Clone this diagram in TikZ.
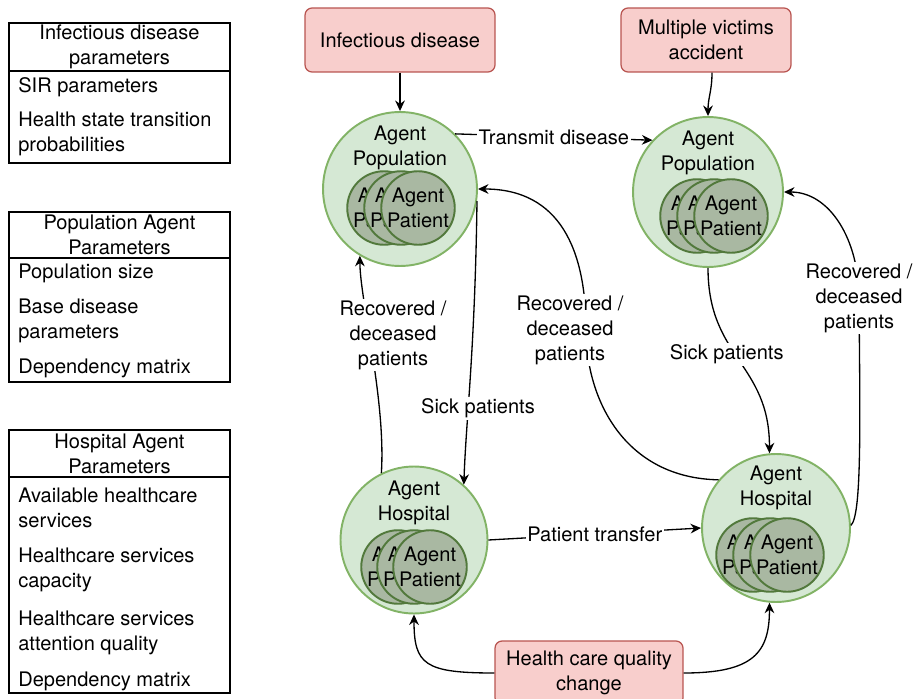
\documentclass[tikz,border=0pt]{standalone}
\usepackage{fontspec}
\setmainfont{TeX Gyre Heros}
\usetikzlibrary{arrows.meta}
\definecolor{popfill}{HTML}{D5E8D4}
\definecolor{popline}{HTML}{82B366}
\definecolor{patfill}{HTML}{A9B8A2}
\definecolor{patline}{HTML}{52793C}
\definecolor{evfill}{HTML}{F8CECC}
\definecolor{evline}{HTML}{B85450}
\tikzset{
  every node/.style={font=\fontsize{11.4}{14.2}\selectfont},
  agent/.style={circle,draw=popline,fill=popfill,line width=1.1pt,minimum size=#1,inner sep=0pt},
  agenttxt/.style={align=center,inner sep=0pt},
  patient/.style={circle,draw=patline,fill=patfill,line width=1.1pt,minimum size=1.46cm,inner sep=0pt,align=center},
  event/.style={draw=evline,fill=evfill,rounded corners=4pt,line width=0.7pt,align=center,minimum height=1.28cm},
  hdr/.style={draw,line width=1.3pt,minimum width=4.42cm,align=center,inner sep=0pt},
  item/.style={anchor=west,align=left,inner sep=0pt},
  flow/.style={-{Stealth[length=6pt,width=5.5pt]},line width=0.75pt},
  lbl/.style={fill=white,inner sep=1pt,align=center}
}
\begin{document}
\begin{tikzpicture}[x=0.02cm,y=-0.02cm]
    \useasboundingbox (0,0) rectangle (919,699);
    % parameter boxes
    \node[hdr,minimum height=0.96cm] (idh) at (119.5,47) {Infectious disease\\parameters};
    \node[hdr,minimum height=1.84cm] (idb) at (119.5,117) {};
    \node[item] (sir) at (18,87) {SIR parameters};
    \node[item] (hst) at (18,134) {Health state transition\\probabilities};
    \node[hdr,minimum height=0.92cm] (pah) at (119.5,235) {Population Agent\\Parameters};
    \node[hdr,minimum height=2.48cm] (pab) at (119.5,320) {};
    \node[item] (psz) at (18,273) {Population size};
    \node[item] (bdp) at (18,321) {Base disease\\parameters};
    \node[item] (pdm) at (18,368) {Dependency matrix};
    \node[hdr,minimum height=0.94cm] (hah) at (119.5,453.5) {Hospital Agent\\Parameters};
    \node[hdr,minimum height=4.32cm] (hab) at (119.5,585) {};
    \node[item] (ahs) at (18,507.5) {Available healthcare\\services};
    \node[item] (hsc) at (18,569.5) {Healthcare services\\capacity};
    \node[item] (hsq) at (18,632.5) {Healthcare services\\attention quality};
    \node[item] (hdm) at (18,681) {Dependency matrix};

    % agents
    \node[agent=3.08cm] (pop1) at (400,189) {};
    \node[agenttxt] (pop1t) at (400,147.5) {Agent\\Population};
    \foreach \px/\k in {384/a,401/b,418/c}
        \node[patient] (pa\k) at (\px,208) {Agent\\Patient};
    \node[agent=3.0cm] (pop2) at (708,192) {};
    \node[agenttxt] (pop2t) at (708,152.5) {Agent\\Population};
    \foreach \px/\k in {697/a,714/b,731/c}
        \node[patient] (pb\k) at (\px,216) {Agent\\Patient};
    \node[agent=2.94cm] (hosp1) at (414,540) {};
    \node[agenttxt] (hosp1t) at (414,502.5) {Agent\\Hospital};
    \foreach \px/\k in {398/a,414/b,430/c}
        \node[patient] (ha\k) at (\px,567) {Agent\\Patient};
    \node[agent=2.96cm] (hosp2) at (776,528) {};
    \node[agenttxt] (hosp2t) at (776,487.5) {Agent\\Hospital};
    \foreach \px/\k in {753/a,770/b,787/c}
        \node[patient] (hb\k) at (\px,555) {Agent\\Patient};

    % events
    \node[event,minimum width=3.8cm] (inf) at (400,40) {Infectious disease};
    \node[event,minimum width=3.4cm] (mva) at (706,40) {Multiple victims\\accident};
    \node[event,minimum width=3.76cm] (hcq) at (589,673) {Health care quality\\change};

    % flows
    \draw[flow] (inf.south) .. controls +(0,18) and +(0,-18) .. (pop1.north);
    \draw[flow] ([xshift=0.12cm]mva.south) .. controls +(0,18) and +(0,-18) .. (pop2.north);
    \draw[flow] (pop1.45) -- node[lbl] (tdl) {Transmit disease} (pop2.137);
    \draw[flow] (pop1.-9) .. controls (475,350) and (466,420) .. (hosp1.48)
        node[lbl,pos=0.5,xshift=0.15cm,yshift=-0.68cm] (sk1) {Sick patients};
    \draw[flow] (hosp1.116) .. controls (386,400) and (360,300) .. (pop1.239);
    \draw[flow] (pop2.south) .. controls +(0,90) and +(0,-90) .. (hosp2.95)
        node[lbl,pos=0.5,xshift=-0.24cm,yshift=0.12cm] (sk2) {Sick patients};
    \draw[flow] (hosp2.140) .. controls (625,478) and (586,400) .. (586,330)
        node[lbl,xshift=-0.32cm] (rd2) {Recovered /\\deceased\\patients}
        .. controls (586,250) and (560,189) .. (pop1.east);
    \draw[flow] (hosp2.2) .. controls (862,515) and (860,420) .. (859,298)
        node[lbl] (rd3) {Recovered /\\deceased\\patients}
        .. controls (859,240) and (830,192) .. (pop2.east);
    \draw[flow] (hosp1.east) -- node[lbl] (ptl) {Patient transfer} (hosp2.west);
    \draw[flow] (hcq.west) .. controls +(-70,0) and +(0,50) .. (hosp1.south);
    \draw[flow] (hcq.east) .. controls +(70,0) and +(0,50) .. (hosp2.265);
    \node[lbl] (rd1) at (393,335) {Recovered /\\deceased\\patients};
\end{tikzpicture}
\end{document}
